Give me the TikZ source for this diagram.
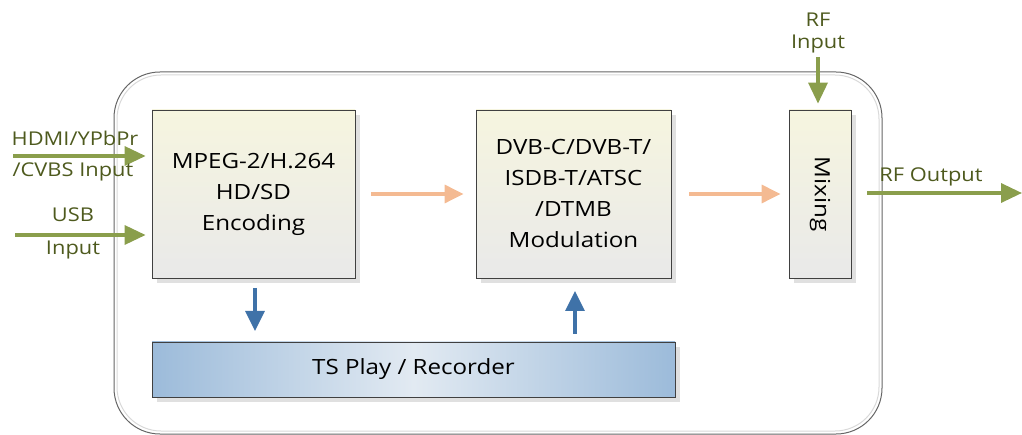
\documentclass[tikz,border=0pt]{standalone}
\usepackage{fontspec}
\setmainfont{Open Sans}[FakeStretch=1.15]
\usetikzlibrary{arrows.meta}
\definecolor{grn}{HTML}{8A9E4C}
\definecolor{grntxt}{HTML}{4E5A1E}
\definecolor{org}{HTML}{F4BA92}
\definecolor{blu}{HTML}{3F72A8}
\definecolor{boxtop}{HTML}{F6F5DF}
\definecolor{boxbot}{HTML}{E9E9E9}
\definecolor{tsedge}{HTML}{9CBBDA}
\definecolor{tsmid}{HTML}{E2EAF2}
\tikzset{
  blockbox/.style={draw=black!75, line width=0.8pt, top color=boxtop, bottom color=boxbot, align=center, font=\fontsize{21}{31}\selectfont, inner sep=0pt},
  shadowbox/.style={fill=black!12, draw=none},
  garrow/.style={draw=grn, line width=3.4pt, -{Triangle[length=21pt,width=19pt]}},
  oarrow/.style={draw=org, line width=3.2pt, -{Triangle[length=19pt,width=18pt]}},
  barrow/.style={draw=blu, line width=3.2pt, -{Triangle[length=20pt,width=19pt]}},
  glabel/.style={text=grntxt, font=\fontsize{19}{22}\selectfont, inner sep=0pt},
}
\begin{document}
\begin{tikzpicture}[x=1pt,y=-1pt]
\useasboundingbox (0,0) rectangle (1022,435);
% outer frame
\draw[black!60, line width=1pt, rounded corners=46pt] (114,72) rectangle (882,434);
\draw[black!15, line width=1pt, rounded corners=44pt] (117,75) rectangle (879,431);
% shadows
\fill[shadowbox] (157,115) rectangle (360,283);
\fill[shadowbox] (481,115) rectangle (676,283);
\fill[shadowbox] (794,115) rectangle (856,283);
\fill[shadowbox] (157,347) rectangle (680,402);
% blocks
\node[blockbox, minimum width=203pt, minimum height=168pt] (enc) at (253.5,194) {MPEG-2/H.264\\HD/SD\\Encoding};
\node[blockbox, minimum width=195pt, minimum height=168pt] (mod) at (573.5,194) {DVB-C/DVB-T/\\ISDB-T/ATSC\\/DTMB\\Modulation};
\node[blockbox, minimum width=62pt, minimum height=168pt] (mix) at (820,194) {};
\node[rotate=-90, font=\fontsize{21}{24}\selectfont, inner sep=0pt] (mixt) at (mix.center) {Mixing};
\node[draw=black!75, line width=0.8pt, minimum width=523pt, minimum height=55pt, inner sep=0pt,
  left color=tsedge, right color=tsedge, middle color=tsmid, font=\fontsize{21}{24}\selectfont] (ts) at (413.5,369.5) {TS Play / Recorder};
% coordinates
\coordinate (hdmiS) at (13,156);
\coordinate (usbS) at (15,235);
\coordinate (rfinS) at (818,57);
\coordinate (rfoutS) at (867,193);
\coordinate (rfoutE) at (1022,193);
\coordinate (b1s) at (255,288);
\coordinate (b1e) at (255,331);
\coordinate (b2s) at (575,334);
\coordinate (b2e) at (575,291);
% green arrows
\draw[garrow] (hdmiS) -- ([xshift=-6pt]enc.west |- hdmiS);
\draw[garrow] (usbS) -- ([xshift=-6pt]enc.west |- usbS);
\draw[garrow] (rfinS) -- ([yshift=6pt]mix.north -| rfinS);
\draw[garrow] (rfoutS) -- (rfoutE);
% orange arrows
\draw[oarrow] ([xshift=16pt]enc.east) -- ([xshift=-12pt]mod.west);
\draw[oarrow] ([xshift=18pt]mod.east) -- ([xshift=-8pt]mix.west);
% blue arrows
\draw[barrow] (b1s) -- (b1e);
\draw[barrow] (b2s) -- (b2e);
% labels
\node[glabel] (l1) at (75,138) {HDMI/YPbPr};
\node[glabel] (l2) at (73,172) {/CVBS Input};
\node[glabel] (l3) at (73,215) {USB};
\node[glabel] (l4) at (73,250) {Input};
\node[glabel] (l5) at (818,20) {RF};
\node[glabel] (l6) at (818,44) {Input};
\node[glabel] (l7) at (931,177) {RF Output};
\end{tikzpicture}
\end{document}
